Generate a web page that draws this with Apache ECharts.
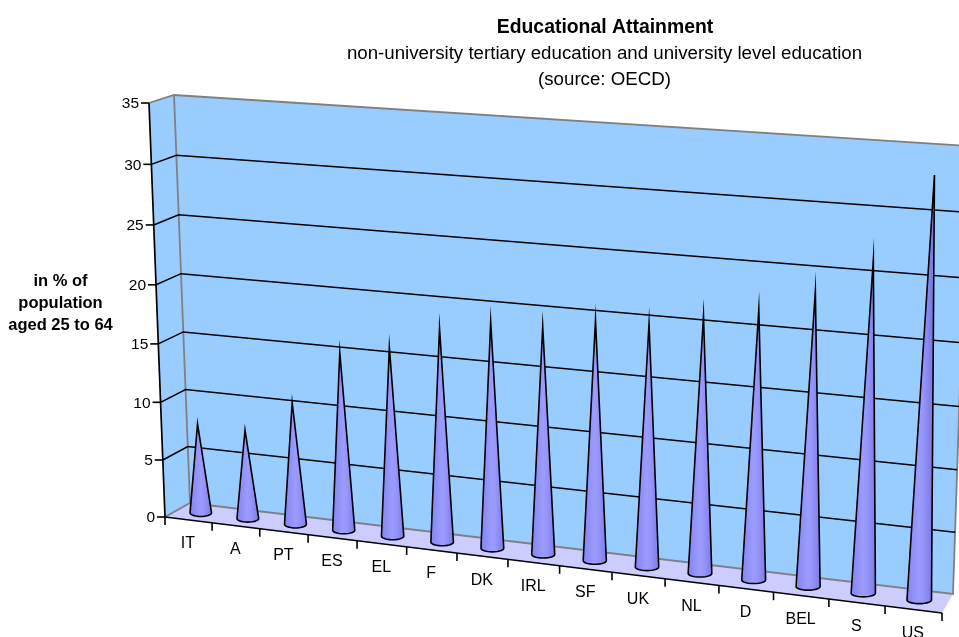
<!DOCTYPE html>
<html><head><meta charset="utf-8">
<style>html,body{margin:0;padding:0;background:#fff}#c{width:959px;height:637px}</style>
<script src="https://cdn.jsdelivr.net/npm/echarts@6/dist/echarts.min.js"></script>
</head><body><div id="c"></div>
<script>
const categories = ['IT','A','PT','ES','EL','F','DK','IRL','SF','UK','NL','D','BEL','S','US'];
const attainment = [7.8,7.7,10.5,15.2,16,18,18.9,18.9,19.8,19.9,20.9,21.8,23.6,26.4,33.1];
const yTicks = [0,5,10,15,20,25,30,35];
const YMAX = 35;
const FONT = '"Liberation Sans", Arial, sans-serif';

// Picture planes of the 3D box (bottom-left, bottom-right, top-right, top-left)
const backPlane  = [[190,503],[953,594],[968,146],[174,95]];
const frontPlane = [[165,517],[942,613],[962,157],[149,103]];

function homography(q){
  const [[x0,y0],[x1,y1],[x2,y2],[x3,y3]] = q;
  const dx1=x1-x2, dx2=x3-x2, sx=x0-x1+x2-x3, dy1=y1-y2, dy2=y3-y2, sy=y0-y1+y2-y3;
  const den=dx1*dy2-dx2*dy1;
  const g=(sx*dy2-dx2*sy)/den, h=(dx1*sy-sx*dy1)/den;
  const a=x1-x0+g*x1, b=x3-x0+h*x3, d=y1-y0+g*y1, e=y3-y0+h*y3;
  return (u,v)=>{const w=g*u+h*v+1;return [(a*u+b*v+x0)/w,(d*u+e*v+y0)/w];};
}
const hB = homography(backPlane), hF = homography(frontPlane);
// depth: 0 = back wall, 1 = front edge
function project(u,v,depth){
  const b=hB(u,v), f=hF(u,v);
  return [b[0]+(f[0]-b[0])*depth, b[1]+(f[1]-b[1])*depth];
}
function toUV(params,api,cat,val){
  const p=api.coord([cat,val]), r=params.coordSys;
  return [(p[0]-r.x)/r.width,(r.y+r.height-p[1])/r.height];
}
const GRAY='#808080';
const line=(pts,stroke,w)=>({type:'polyline',shape:{points:pts},style:{stroke,lineWidth:w,fill:null}});

function renderWalls(params,api){
  const bl=project(0,0,0),br=project(1,0,0),tr=project(1,1,0),tl=project(0,1,0);
  const fl=project(0,0,1),fr=project(1,0,1),ftl=project(0,1,1);
  const poly=(pts,fill)=>({type:'polygon',shape:{points:pts},style:{fill}});
  return {type:'group',children:[
    poly([bl,br,tr,tl],'#99CCFF'),
    poly([fl,bl,tl,ftl],'#99CCFF'),
    poly([fl,fr,br,bl],'#CCCCFF'),
    line([ftl,tl,tr],GRAY,1.8),
    line([tl,bl],GRAY,1.8),
    line([fl,bl,br,tr],GRAY,1.8)
  ]};
}
function renderGrid(params,api){
  const [,v]=toUV(params,api,0,api.value(0));
  const val=api.value(0);
  const children=[];
  const a=project(0,v,1),b=project(0,v,0),c=project(1,v,0);
  if(val>0&&val<YMAX) children.push(line([a,b,c],'#000',1.5));
  children.push(line([a,[a[0]-8,a[1]]],'#000',1.6));
  children.push({type:'text',style:{text:String(val),x:a[0]-10,y:a[1]+1,align:'right',verticalAlign:'middle',font:'15.5px '+FONT,fill:'#000'}});
  return {type:'group',children};
}
function renderFront(params,api){
  const i=params.dataIndex, band=api.size([1,0])[0]/params.coordSys.width;
  const [uc]=toUV(params,api,i,0);
  const children=[];
  const tick=(u)=>{const p=project(u,0,1);return line([p,[p[0],p[1]+8]],'#000',1.6);};
  children.push(tick(uc-band/2));
  if(i===categories.length-1) children.push(tick(uc+band/2));
  const p=project(uc,0,1);
  children.push({type:'text',style:{text:categories[i],x:p[0]-0.5,y:p[1]+24,align:'center',verticalAlign:'middle',font:'16px '+FONT,fill:'#000'}});
  if(i===0) children.push(line([project(0,0,1),project(1,0,1)],'#000',1.7), line([project(0,0,1),project(0,1,1)],'#000',1.7));
  return {type:'group',children};
}
function renderCone(params,api){
  const i=api.value(0), val=api.value(1);
  const [u,vTop]=toUV(params,api,i,val);
  const [,v0]=toUV(params,api,i,0);
  const base=project(u,v0,0.5), tip=project(u,vTop,0.5);
  const rx=10.7+1.6*u, ry=3.6;
  const pts=[tip];
  const n=14;
  for(let k=0;k<=n;k++){
    const t=Math.PI*(k/n);
    pts.push([base[0]+rx*Math.cos(t), base[1]+ry*Math.sin(t)]);
  }
  const xl=base[0]-rx, xr=base[0]+rx;
  return {type:'polygon',shape:{points:pts},style:{
    stroke:'#000',lineWidth:1.6,lineJoin:'miter',miterLimit:30,
    fill:{type:'linear',x:xl,y:0,x2:xr,y2:0,global:true,colorStops:[
      {offset:0,color:'#8484F0'},{offset:.25,color:'#9090F8'},{offset:.5,color:'#9C9CFF'},
      {offset:.7,color:'#9292F8'},{offset:1,color:'#7C7CE4'}]}
  }};
}
const chart=echarts.init(document.getElementById('c'),null,{renderer:'canvas'});
const txt=(text,left,top,size,weight)=>({text,left,top,textAlign:'center',textStyle:{fontFamily:FONT,fontSize:size,fontWeight:weight,color:'#000',lineHeight:22}});
chart.setOption({
  animation:false,backgroundColor:'#fff',
  title:[
    txt('Educational Attainment',600,12,19.4,'bold'),
    txt('non-university tertiary education and university level education',599.5,38,18.7,'normal'),
    txt('(source: OECD)',599.5,64,18.7,'normal'),
    txt('in % of',55.5,265,16.5,'bold'),
    txt('population',55.5,287,16.5,'bold'),
    txt('aged 25 to 64',55.5,309,16.5,'bold')
  ],
  grid:{left:0,right:0,top:0,bottom:0},
  xAxis:{type:'category',data:categories,show:false},
  yAxis:{type:'value',min:0,max:YMAX,interval:5,show:false},
  series:[
    {type:'custom',name:'walls',silent:true,z:1,data:[[0,0]],renderItem:renderWalls},
    {type:'custom',name:'gridlines',silent:true,z:2,data:yTicks.map(v=>[v]),encode:{y:0},renderItem:renderGrid},
    {type:'custom',name:'front',silent:true,z:3,data:categories.map((c,i)=>[i,0]),renderItem:renderFront},
    {type:'custom',name:'Educational attainment',silent:true,z:4,data:attainment.map((v,i)=>[i,v]),renderItem:renderCone}
  ]
});
</script></body></html>
